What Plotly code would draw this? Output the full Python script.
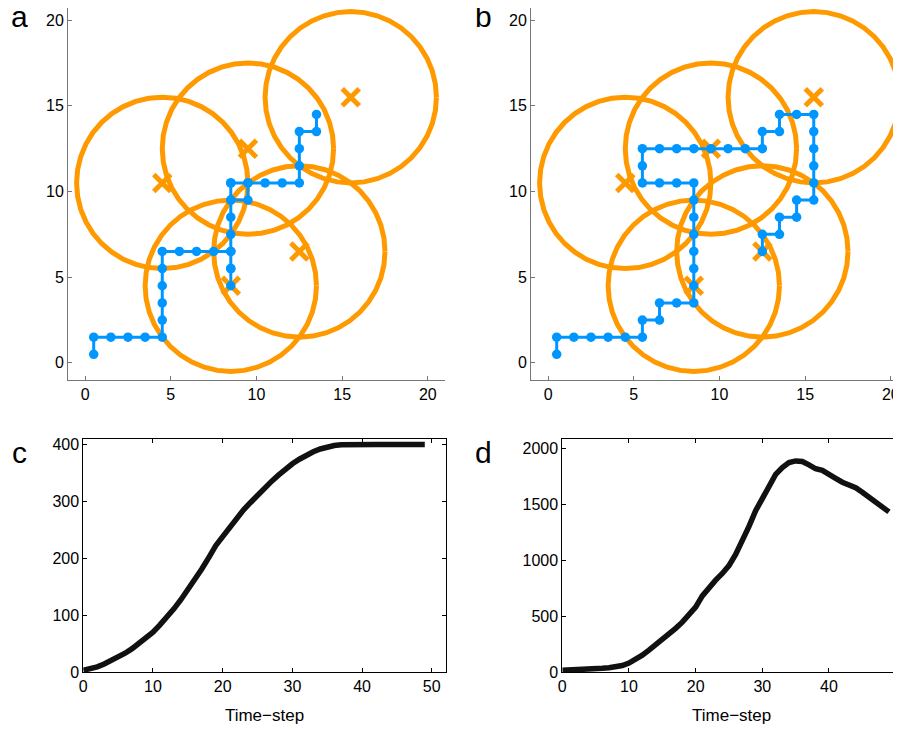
import numpy as np
import plotly.graph_objects as go

# ---------------- data ----------------
# target centres (shared by panels a and b); the circles are radius-5 neighbourhoods
target_x = [4.5, 9.5, 15.5, 12.5, 8.5]
target_y = [10.5, 12.5, 15.5, 6.5, 4.5]
radius = 5.0

# path in panel a
path_a_x = [0.5, 0.5, 1.5, 2.5, 3.5, 4.5, 4.5, 4.5, 4.5, 4.5, 4.5, 5.5, 6.5, 7.5, 8.5,
            8.5, 8.5, 8.5, 8.5, 8.5, 8.5, 8.5, 9.5, 9.5, 8.5, 8.5, 8.5, 9.5, 10.5, 11.5,
            12.5, 12.5, 12.5, 12.5, 13.5, 13.5]
path_a_y = [0.5, 1.5, 1.5, 1.5, 1.5, 1.5, 2.5, 3.5, 4.5, 5.5, 6.5, 6.5, 6.5, 6.5, 6.5,
            5.5, 4.5, 5.5, 6.5, 7.5, 8.5, 9.5, 9.5, 10.5, 10.5, 9.5, 10.5, 10.5, 10.5, 10.5,
            10.5, 11.5, 12.5, 13.5, 13.5, 14.5]

# path in panel b
path_b_x = [0.5, 0.5, 1.5, 2.5, 3.5, 4.5, 5.5, 5.5, 6.5, 6.5, 7.5, 8.5, 8.5, 8.5, 8.5,
            8.5, 8.5, 8.5, 8.5, 7.5, 6.5, 5.5, 5.5, 5.5, 6.5, 7.5, 8.5, 9.5, 10.5, 11.5,
            12.5, 12.5, 13.5, 13.5, 14.5, 15.5, 15.5, 15.5, 15.5, 15.5, 15.5, 14.5, 14.5,
            13.5, 13.5, 12.5, 12.5]
path_b_y = [0.5, 1.5, 1.5, 1.5, 1.5, 1.5, 1.5, 2.5, 2.5, 3.5, 3.5, 3.5, 4.5, 5.5, 6.5,
            7.5, 8.5, 9.5, 10.5, 10.5, 10.5, 10.5, 11.5, 12.5, 12.5, 12.5, 12.5, 12.5, 12.5, 12.5,
            12.5, 13.5, 13.5, 14.5, 14.5, 14.5, 13.5, 12.5, 11.5, 10.5, 9.5, 9.5, 8.5,
            8.5, 7.5, 7.5, 6.5]

# panel c / d time series
time_step = list(range(50))
series_c = [3, 5, 9, 14, 20, 26, 33, 41, 50, 60, 70, 83, 96, 111, 127, 144, 162, 181, 201, 222,
            238, 255, 270, 285, 298, 311, 323, 335, 346, 357, 366, 374, 381, 387, 392, 396, 398,
            399.5, 400, 400, 400, 400, 400, 400, 400, 400, 400, 400, 400, 400]
series_d = [15, 16, 18, 20, 24, 28, 33, 38, 45, 58, 80, 110, 150, 195, 240, 290, 340, 390, 445,
            510, 580, 680, 760, 820, 880, 950, 1050, 1170, 1300, 1440, 1550, 1680, 1765, 1825,
            1870, 1885, 1880, 1850, 1815, 1800, 1770, 1730, 1695, 1675, 1645, 1605, 1560, 1510,
            1475, 1430]

panel_labels = ["a", "b", "c", "d"]
grid_ticks = [0, 5, 10, 15, 20]
c_xticks = [0, 10, 20, 30, 40, 50]
c_yticks = [0, 100, 200, 300, 400]
d_yticks = [0, 500, 1000, 1500, 2000]
xlabel = "Time\u2212step"

# ---------------- style ----------------
OFF = 8                      # default page margin of the html body
W, H = 901 - OFF, 730 - OFF  # figure fills the visible window
ORANGE = "#FF9900"
BLUE = "#0096FF"
FONT = "Liberation Sans, Arial, sans-serif"
UNIT = 377 / 22              # pixels per grid unit in panels a/b

def fx(px):
    return (px - OFF) / W

def fy(py):
    return 1 - (py - OFF) / H

fig = go.Figure()

theta = np.linspace(0, 2 * np.pi, 41)

def add_grid_panel(xa, ya, px, py):
    for cx, cy in zip(target_x, target_y):
        fig.add_trace(go.Scatter(x=cx + radius * np.cos(theta), y=cy + radius * np.sin(theta),
                                 mode="lines", line=dict(color=ORANGE, width=5),
                                 xaxis=xa, yaxis=ya, hoverinfo="skip", showlegend=False))
    fig.add_trace(go.Scatter(x=target_x, y=target_y, mode="markers",
                             marker=dict(symbol="x-thin", size=17,
                                         line=dict(color=ORANGE, width=5)),
                             xaxis=xa, yaxis=ya, showlegend=False))
    fig.add_trace(go.Scatter(x=px, y=py, mode="lines+markers",
                             line=dict(color=BLUE, width=3),
                             marker=dict(color=BLUE, size=9.5),
                             xaxis=xa, yaxis=ya, showlegend=False))

add_grid_panel("x", "y", path_a_x, path_a_y)
add_grid_panel("x2", "y2", path_b_x, path_b_y)

fig.add_trace(go.Scatter(x=time_step, y=series_c, mode="lines",
                         line=dict(color="#111111", width=5.5), xaxis="x3", yaxis="y3",
                         showlegend=False))
fig.add_trace(go.Scatter(x=time_step, y=series_d, mode="lines",
                         line=dict(color="#111111", width=5.5), xaxis="x4", yaxis="y4",
                         showlegend=False))

tickfont = dict(family=FONT, size=16, color="black")

grid_axis = dict(tickvals=grid_ticks, ticks="inside", ticklen=4,
                 tickcolor="#777777", showline=True, linecolor="#777777", linewidth=1,
                 showgrid=False, zeroline=False, tickfont=tickfont, automargin=False)

box_axis = dict(ticks="inside", ticklen=4, tickcolor="black", showline=True,
                linecolor="black", linewidth=1, mirror="ticks", showgrid=False,
                zeroline=False, tickfont=tickfont, automargin=False)

top_dom = [fy(380), 1.0]
y_top = -1 + (380 - OFF) / UNIT
bot_dom = [fy(672), fy(439.3)]

fig.update_layout(
    width=W, height=H, margin=dict(l=0, r=0, t=0, b=0),
    paper_bgcolor="white", plot_bgcolor="white",
    font=dict(family=FONT, color="black"),
    xaxis=dict(grid_axis, domain=[fx(68), fx(445)], anchor="y", range=[-1, 21]),
    yaxis=dict(grid_axis, domain=top_dom, anchor="x", range=[-1, y_top]),
    xaxis2=dict(grid_axis, domain=[fx(531), 1.0], anchor="y2",
                range=[-1, -1 + (901 - 531) / UNIT]),
    yaxis2=dict(grid_axis, domain=top_dom, anchor="x2", range=[-1, y_top]),
    xaxis3=dict(box_axis, domain=[fx(83.3), fx(445.7)], anchor="y3", range=[0, 52],
                tickvals=c_xticks,
                title=dict(text=xlabel, font=dict(family=FONT, size=17), standoff=14)),
    yaxis3=dict(box_axis, domain=bot_dom, anchor="x3", range=[0, 409], tickvals=c_yticks),
    xaxis4=dict(box_axis, domain=[fx(562.3), 1.0], anchor="y4",
                range=[0, (901 - 562.3) / 6.667], tickvals=c_xticks,
                title=dict(text=xlabel, font=dict(family=FONT, size=17), standoff=14)),
    yaxis4=dict(box_axis, domain=bot_dom, anchor="x4", range=[0, 2078], tickvals=d_yticks),
)

label_pos = [(19, 17), (483, 17), (19, 452), (483, 452)]
for lab, (lx, ly) in zip(panel_labels, label_pos):
    fig.add_annotation(text=lab, x=fx(lx), y=fy(ly), xref="paper", yref="paper",
                       xanchor="center", yanchor="middle", showarrow=False,
                       font=dict(family=FONT, size=30, color="black"))

fig.write_html("out.html")
